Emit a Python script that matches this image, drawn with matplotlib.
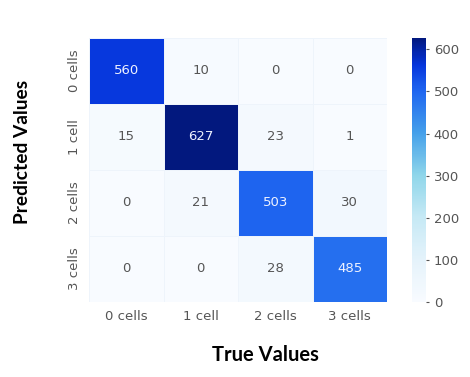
import numpy as np
import matplotlib.pyplot as plt
from matplotlib.colors import LinearSegmentedColormap

labels = ["0 cells", "1 cell", "2 cells", "3 cells"]
counts = np.array([
    [560, 10, 0, 0],
    [15, 627, 23, 1],
    [0, 21, 503, 30],
    [0, 0, 28, 485],
])

cmap = LinearSegmentedColormap.from_list(
    "cm_blue",
    [(0.0, "#f8fbff"), (0.15, "#e6f3fb"), (0.32, "#c6e9f5"), (0.48, "#8fd6ea"),
     (0.64, "#45a0ea"), (0.8, "#1f66f0"), (0.9, "#0535dc"), (1.0, "#02187e")])

fig = plt.figure(figsize=(4.7, 3.77), dpi=100)
ax = fig.add_axes([89 / 470, 1 - 302 / 377, 298 / 470, 264 / 377])
cax = fig.add_axes([412 / 470, 1 - 302 / 377, 14 / 470, 264 / 377])

vmax = counts.max()
im = ax.pcolormesh(counts, cmap=cmap, vmin=0, vmax=vmax, edgecolor="#eef4fb", linewidth=0.6)
ax.set_xlim(0, 4)
ax.set_ylim(4, 0)
for i in range(4):
    for j in range(4):
        v = counts[i, j]
        ax.text(j + 0.5, i + 0.5, str(v), ha="center", va="center",
                fontsize=9.5, color="#eef2ff" if v > 300 else "#555555")

ax.set_xticks(np.arange(4) + 0.5)
ax.set_xticklabels(labels, fontsize=9.5, color="#555555")
ax.set_yticks(np.arange(4) + 0.5)
ax.set_yticklabels(labels, fontsize=9.5, color="#555555", rotation=90, va="center")
ax.tick_params(length=0, pad=6)
for s in ax.spines.values():
    s.set_visible(False)

cb = fig.colorbar(im, cax=cax, ticks=[0, 100, 200, 300, 400, 500, 600])
cb.outline.set_visible(False)
cax.tick_params(labelsize=9.5, labelcolor="#555555", length=2, color="#555555")

fig.text(23 / 470, 1 - 152 / 377, "Predicted Values", rotation=90, ha="center", va="center",
         fontsize=13.8, fontweight="bold", family="Lato")
fig.text(265 / 470, 1 - 355 / 377, "True Values", ha="center", va="center",
         fontsize=14.5, fontweight="bold", family="Lato")

fig.savefig("out.png", dpi=100)
